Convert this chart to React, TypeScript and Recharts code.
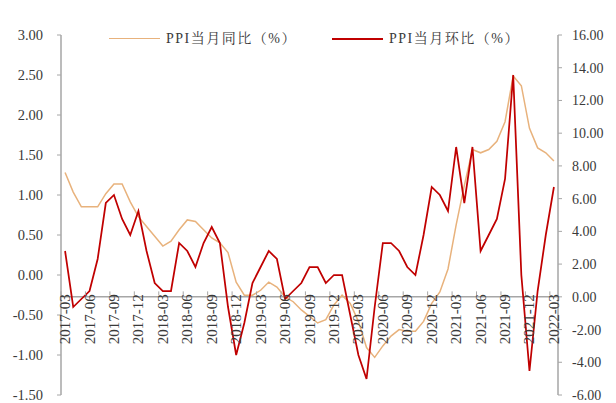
import React from 'react';
import { ComposedChart, Line, XAxis, YAxis, ReferenceLine, Legend } from 'recharts';

const months = [
  '2017-03','2017-04','2017-05','2017-06','2017-07','2017-08','2017-09','2017-10','2017-11','2017-12',
  '2018-01','2018-02','2018-03','2018-04','2018-05','2018-06','2018-07','2018-08','2018-09','2018-10','2018-11','2018-12',
  '2019-01','2019-02','2019-03','2019-04','2019-05','2019-06','2019-07','2019-08','2019-09','2019-10','2019-11','2019-12',
  '2020-01','2020-02','2020-03','2020-04','2020-05','2020-06','2020-07','2020-08','2020-09','2020-10','2020-11','2020-12',
  '2021-01','2021-02','2021-03','2021-04','2021-05','2021-06','2021-07','2021-08','2021-09','2021-10','2021-11','2021-12',
  '2022-01','2022-02','2022-03',
];

// PPI 当月同比 (%), right axis
const yoy = [
  7.6, 6.4, 5.5, 5.5, 5.5, 6.3, 6.9, 6.9, 5.8, 4.9,
  4.3, 3.7, 3.1, 3.4, 4.1, 4.7, 4.6, 4.1, 3.6, 3.3, 2.7, 0.9,
  0.1, 0.1, 0.4, 0.9, 0.6, 0.0, -0.3, -0.8, -1.2, -1.6, -1.4, -0.5,
  0.1, -0.4, -1.5, -3.1, -3.7, -3.0, -2.4, -2.0, -2.1, -2.1, -1.5, -0.4,
  0.3, 1.7, 4.4, 6.8, 9.0, 8.8, 9.0, 9.5, 10.7, 13.5, 12.9, 10.3,
  9.1, 8.8, 8.3,
];

// PPI 当月环比 (%), left axis
const mom = [
  0.3, -0.4, -0.3, -0.2, 0.2, 0.9, 1.0, 0.7, 0.5, 0.8,
  0.3, -0.1, -0.2, -0.2, 0.4, 0.3, 0.1, 0.4, 0.6, 0.4, -0.4, -1.0,
  -0.6, -0.1, 0.1, 0.3, 0.2, -0.3, -0.2, -0.1, 0.1, 0.1, -0.1, 0.0,
  0.0, -0.5, -1.0, -1.3, -0.4, 0.4, 0.4, 0.3, 0.1, 0.0, 0.5, 1.1,
  1.0, 0.8, 1.6, 0.9, 1.6, 0.3, 0.5, 0.7, 1.2, 2.5, 0.0, -1.2,
  -0.2, 0.5, 1.1,
];

const leftTicks = [-1.5, -1, -0.5, 0, 0.5, 1, 1.5, 2, 2.5, 3];
const rightTicks = [-6, -4, -2, 0, 2, 4, 6, 8, 10, 12, 14, 16];
const seriesNames = ['PPI当月同比（%）', 'PPI当月环比（%）'];

const data = months.map((m, i) => ({ month: m, yoy: yoy[i], mom: mom[i] }));

const W = 616;
const H = 403;
const TOP = 15;
const BOTTOM = 7;
const XH = 1;
const PLOT_H = H - TOP - BOTTOM - XH;
const R_MIN = rightTicks[0];
const R_MAX = rightTicks[rightTicks.length - 1];

const FONT = "'Liberation Serif', 'Noto Serif CJK SC', 'Noto Sans CJK SC', serif";
const TEXT = '#3A3A3A';
const AXIS = '#A6A6A6';
const TAN = '#E8B27C';
const RED = '#C00000';

const renderXTick = (props: any) => {
  const { x, payload } = props;
  const y0 = TOP + (PLOT_H * R_MAX) / (R_MAX - R_MIN);
  const half = payload && typeof payload.offset === 'number' && payload.offset > 0 ? payload.offset : 4.07;
  return (
    <g key={`xt-${payload.value}`}>
      <line x1={x - half} x2={x - half} y1={y0} y2={y0 + 4} stroke={AXIS} strokeWidth={1} />
      <text
        transform={`translate(${x + 5},${y0 + 3}) rotate(-90)`}
        textAnchor="end"
        fontFamily={FONT}
        fontSize={15}
        fill={TEXT}
      >
        {payload.value}
      </text>
    </g>
  );
};

const LegendContent = () => (
  <div style={{ position: 'relative', width: W, height: 20, fontFamily: FONT, fontSize: 14, color: TEXT, letterSpacing: '1.5px' }}>
    <div style={{ position: 'absolute', left: 109, top: 9, width: 51, height: 0, borderTop: `1.5px solid ${TAN}` }} />
    <div style={{ position: 'absolute', left: 166, top: 0, whiteSpace: 'nowrap', lineHeight: '20px' }}>{seriesNames[0]}</div>
    <div style={{ position: 'absolute', left: 332, top: 9, width: 51, height: 0, borderTop: `2px solid ${RED}` }} />
    <div style={{ position: 'absolute', left: 389, top: 0, whiteSpace: 'nowrap', lineHeight: '20px' }}>{seriesNames[1]}</div>
  </div>
);

export default function App() {
  return (
    <div style={{ position: 'absolute', left: 0, top: 0, width: W, height: H, background: '#fff' }}>
      <ComposedChart width={W} height={H} data={data} margin={{ top: TOP, right: 0, bottom: BOTTOM, left: 0 }}>
        <XAxis
          dataKey="month"
          xAxisId="x"
          type="category"
          scale="band"
          height={XH}
          interval={2}
          axisLine={false}
          tickLine={false}
          tick={renderXTick}
        />
        <YAxis
          yAxisId="left"
          orientation="left"
          width={61}
          domain={[-1.5, 3]}
          ticks={leftTicks}
          interval={0}
          tickFormatter={(v: number) => v.toFixed(2)}
          axisLine={{ stroke: AXIS, strokeWidth: 1.5 }}
          tickLine={{ stroke: AXIS }}
          tickSize={4}
          tickMargin={14}
          tick={{ fontFamily: FONT, fontSize: 14.5, fill: TEXT }}
        />
        <YAxis
          yAxisId="right"
          orientation="right"
          width={58}
          domain={[R_MIN, R_MAX]}
          ticks={rightTicks}
          interval={0}
          tickFormatter={(v: number) => v.toFixed(2)}
          axisLine={{ stroke: AXIS, strokeWidth: 1.5 }}
          tickLine={{ stroke: AXIS }}
          tickSize={4}
          tickMargin={10}
          tick={{ fontFamily: FONT, fontSize: 14, fill: TEXT, textAnchor: 'start' }}
        />
        <ReferenceLine xAxisId="x" yAxisId="right" y={0} stroke={AXIS} strokeWidth={1.5} />
        <Legend
          verticalAlign="top"
          wrapperStyle={{ position: 'absolute', top: 29, left: 0, width: W }}
          content={<LegendContent />}
        />
        <Line
          xAxisId="x"
          yAxisId="right"
          type="linear"
          dataKey="yoy"
          name={seriesNames[0]}
          stroke={TAN}
          strokeWidth={1.5}
          dot={false}
          activeDot={false}
          isAnimationActive={false}
        />
        <Line
          xAxisId="x"
          yAxisId="left"
          type="linear"
          dataKey="mom"
          name={seriesNames[1]}
          stroke={RED}
          strokeWidth={1.75}
          dot={false}
          activeDot={false}
          isAnimationActive={false}
        />
      </ComposedChart>
    </div>
  );
}
